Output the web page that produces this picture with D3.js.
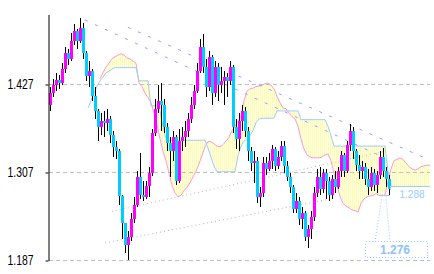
<!DOCTYPE html>
<html>
<head>
<meta charset="utf-8">
<script src="https://cdn.jsdelivr.net/npm/d3@7"></script>
<style>
  body { margin: 0; background: #fff; }
  svg { display: block; }
</style>
</head>
<body>
<div id="chart"></div>
<script>
// candles (open of each bar = previous close)
var firstOpen = 1.399;
var closes = [
  1.415,1.426,1.433,1.429,1.448,1.470,1.462,1.486,1.500,1.486,
  1.504,1.470,1.439,1.445,1.411,1.391,1.369,1.377,1.375,1.380,
  1.358,1.342,1.336,1.275,1.238,1.208,1.219,1.244,1.263,1.301,
  1.276,1.274,1.289,1.306,1.361,1.394,1.405,1.399,1.369,1.347,
  1.336,1.355,1.295,1.350,1.355,1.364,1.380,1.399,1.418,1.445,
  1.478,1.451,1.424,1.465,1.415,1.451,1.426,1.432,1.437,1.432,
  1.451,1.369,1.353,1.377,1.391,1.364,1.336,1.320,1.323,1.274,
  1.279,1.320,1.312,1.323,1.339,1.316,1.328,1.343,1.316,1.301,
  1.287,1.257,1.268,1.244,1.252,1.219,1.230,1.246,1.279,1.301,
  1.285,1.306,1.295,1.276,1.298,1.287,1.309,1.331,1.309,1.345,
  1.364,1.336,1.317,1.309,1.315,1.298,1.287,1.306,1.290,1.304,
  1.328,1.309,1.298,1.284];
var highs = [
  1.424,1.435,1.443,1.440,1.456,1.478,1.475,1.497,1.510,1.503,
  1.518,1.511,1.473,1.459,1.448,1.424,1.394,1.388,1.391,1.394,
  1.384,1.364,1.350,1.339,1.276,1.238,1.227,1.252,1.274,1.309,
  1.334,1.295,1.295,1.315,1.366,1.407,1.426,1.429,1.407,1.375,
  1.355,1.364,1.358,1.366,1.369,1.377,1.388,1.410,1.426,1.456,
  1.489,1.496,1.462,1.473,1.467,1.459,1.456,1.451,1.445,1.443,
  1.459,1.454,1.380,1.388,1.399,1.396,1.369,1.342,1.336,1.328,
  1.287,1.328,1.328,1.334,1.345,1.342,1.336,1.350,1.350,1.323,
  1.306,1.290,1.279,1.274,1.260,1.255,1.235,1.255,1.287,1.312,
  1.315,1.312,1.312,1.301,1.304,1.309,1.315,1.336,1.334,1.350,
  1.373,1.369,1.339,1.331,1.323,1.320,1.312,1.315,1.312,1.309,
  1.336,1.340,1.315,1.304];
var lows = [
  1.391,1.410,1.418,1.421,1.426,1.443,1.454,1.459,1.481,1.475,
  1.484,1.462,1.432,1.424,1.405,1.380,1.350,1.358,1.355,1.364,
  1.347,1.328,1.325,1.263,1.216,1.197,1.188,1.214,1.238,1.260,
  1.271,1.268,1.271,1.274,1.302,1.357,1.388,1.364,1.361,1.336,
  1.301,1.323,1.290,1.293,1.336,1.342,1.355,1.375,1.394,1.415,
  1.443,1.443,1.410,1.418,1.399,1.410,1.405,1.415,1.399,1.410,
  1.426,1.361,1.339,1.336,1.364,1.355,1.323,1.309,1.293,1.265,
  1.260,1.274,1.304,1.309,1.312,1.309,1.312,1.323,1.306,1.295,
  1.279,1.252,1.252,1.235,1.230,1.214,1.204,1.216,1.241,1.274,
  1.276,1.279,1.271,1.268,1.271,1.279,1.285,1.301,1.301,1.306,
  1.336,1.325,1.309,1.298,1.298,1.290,1.276,1.282,1.282,1.279,
  1.298,1.301,1.287,1.276];

// cloud, starting at bar 13 and running past the last candle
var cloudStart = 13;
var spanA = [
  null,null,null,null,
  1.435,1.443,1.451,1.456,1.462,1.465,1.467,1.469,1.467,1.463,
  1.462,1.459,1.456,1.429,1.424,1.415,1.409,1.402,1.388,1.372,
  1.353,1.336,1.323,1.306,1.289,1.279,1.274,1.276,1.282,1.287,
  1.293,1.301,1.309,1.319,1.330,1.342,1.349,1.349,1.346,1.343,
  1.342,1.345,1.350,1.355,1.364,1.370,1.377,1.384,1.405,1.418,
  1.421,1.422,1.424,1.425,1.426,1.428,1.429,1.426,1.421,1.411,
  1.402,1.395,1.394,1.388,1.383,1.380,1.370,1.353,1.339,1.331,
  1.328,1.327,1.327,1.327,1.328,1.331,1.332,1.323,1.306,1.289,
  1.274,1.265,1.261,1.259,1.256,1.255,1.253,1.265,1.271,1.274,
  1.275,1.276,1.278,1.276,1.276,1.276,1.295,1.312,1.323,1.325,
  1.327,1.325,1.320,1.315,1.312,1.310,1.312,1.315,1.316,1.317,
  1.317];
var spanB = [
  1.395,1.405,1.415,1.425,
  1.432,1.437,1.443,1.445,1.448,1.450,1.450,1.450,1.450,1.450,
  1.450,1.450,1.450,1.432,1.432,1.432,1.432,1.398,1.398,1.398,
  1.391,1.370,1.353,1.351,1.351,1.351,1.351,1.351,1.351,1.351,
  1.351,1.351,1.351,1.351,1.351,1.351,1.340,1.328,1.316,1.308,
  1.308,1.308,1.308,1.308,1.308,1.308,1.330,1.343,1.350,1.353,
  1.357,1.364,1.375,1.380,1.381,1.381,1.381,1.381,1.381,1.391,
  1.391,1.391,1.391,1.391,1.391,1.391,1.391,1.379,1.379,1.379,
  1.379,1.379,1.379,1.379,1.379,1.379,1.370,1.357,1.343,1.343,
  1.343,1.343,1.343,1.343,1.343,1.343,1.343,1.343,1.343,1.343,
  1.343,1.343,1.343,1.343,1.343,1.343,1.309,1.288,1.288,1.288,
  1.288,1.288,1.288,1.288,1.288,1.288,1.288,1.288,1.288,1.288,
  1.288];

// trend lines: [bar, price] -> [bar, price]
var upperLines = [[12, 1.515, 110.3, 1.330], [26.3, 1.505, 126.3, 1.325]];
var lowerLines = [[18.7, 1.211, 93.7, 1.271], [21, 1.254, 112, 1.336]];

var yTicks = [1.427, 1.307, 1.187];
var spanBLevel = 1.288, spanALevel = 1.276;

var width = 434, height = 274;

var svg = d3.select('#chart').append('svg')
    .attr('width', width)
    .attr('height', height);

var x = d3.scaleLinear().domain([0, 127]).range([49, 430]);
var y = d3.scaleLinear().domain([1.187, 1.52245]).range([260.5, 14.5]);

var defs = svg.append('defs');
defs.append('pattern')
    .attr('id', 'hatch')
    .attr('patternUnits', 'userSpaceOnUse')
    .attr('width', 2).attr('height', 2)
  .append('rect')
    .attr('width', 1).attr('height', 2)
    .attr('fill', '#ffff99')
    .attr('shape-rendering', 'crispEdges');

// cloud
var cloud = spanB.map(function(b, k) {
  return { i: cloudStart + k, a: spanA[k], b: b };
});

svg.append('path')
    .datum(cloud)
    .attr('fill', 'url(#hatch)')
    .attr('shape-rendering', 'crispEdges')
    .attr('d', d3.area()
        .defined(function(d) { return d.a != null; })
        .x(function(d) { return x(d.i); })
        .y0(function(d) { return y(d.a); })
        .y1(function(d) { return y(d.b); }));

svg.append('path')
    .datum(cloud)
    .attr('fill', 'none')
    .attr('stroke', '#ff99cc')
    .attr('d', d3.line()
        .defined(function(d) { return d.a != null; })
        .x(function(d) { return x(d.i); })
        .y(function(d) { return y(d.a); }));

svg.append('path')
    .datum(cloud)
    .attr('fill', 'none')
    .attr('stroke', '#99ccff')
    .attr('d', d3.line()
        .x(function(d) { return x(d.i); })
        .y(function(d) { return y(d.b); }));

// grid
svg.append('g').selectAll('line')
    .data(yTicks)
    .enter().append('line')
    .attr('x1', 49).attr('x2', 430)
    .attr('y1', function(d) { return y(d); })
    .attr('y2', function(d) { return y(d); })
    .attr('stroke', '#c0c0c0')
    .attr('stroke-dasharray', '4,3')
    .attr('shape-rendering', 'crispEdges');

// trend lines
svg.append('g').selectAll('line')
    .data(upperLines)
    .enter().append('line')
    .attr('x1', function(d) { return x(d[0]); })
    .attr('y1', function(d) { return y(d[1]); })
    .attr('x2', function(d) { return x(d[2]); })
    .attr('y2', function(d) { return y(d[3]); })
    .attr('stroke', '#9999ff')
    .attr('stroke-dasharray', '3,8');

svg.append('g').selectAll('line')
    .data(lowerLines)
    .enter().append('line')
    .attr('x1', function(d) { return x(d[0]); })
    .attr('y1', function(d) { return y(d[1]); })
    .attr('x2', function(d) { return x(d[2]); })
    .attr('y2', function(d) { return y(d[3]); })
    .attr('stroke', '#b4b4b4')
    .attr('stroke-dasharray', '1,3');

// candles
var bars = closes.map(function(c, i) {
  return { i: i, o: i === 0 ? firstOpen : closes[i - 1], c: c, h: highs[i], l: lows[i] };
});

var cg = svg.append('g').attr('shape-rendering', 'crispEdges');
cg.selectAll('line')
    .data(bars)
    .enter().append('line')
    .attr('x1', function(d) { return Math.round(x(d.i)) + 1.5; })
    .attr('x2', function(d) { return Math.round(x(d.i)) + 1.5; })
    .attr('y1', function(d) { return y(d.h); })
    .attr('y2', function(d) { return y(d.l); })
    .attr('stroke', '#000');

cg.selectAll('rect')
    .data(bars)
    .enter().append('rect')
    .attr('x', function(d) { return Math.round(x(d.i)); })
    .attr('width', 3)
    .attr('y', function(d) { return y(Math.max(d.o, d.c)); })
    .attr('height', function(d) { return Math.max(1, Math.abs(y(d.o) - y(d.c))); })
    .attr('fill', function(d) { return d.c >= d.o ? '#ff00ff' : '#00ccff'; });

// axis
var axis = svg.append('g')
    .attr('transform', 'translate(48.5,0)')
    .call(d3.axisLeft(y)
        .tickValues(yTicks)
        .tickSize(3)
        .tickSizeOuter(0)
        .tickPadding(12)
        .tickFormat(d3.format('.3f')));
axis.select('.domain').attr('stroke', '#000');
axis.selectAll('.tick line').attr('stroke', '#000');
axis.selectAll('text')
    .attr('fill', '#000')
    .style('font-family', '"Liberation Sans", Arial, sans-serif')
    .style('font-size', '14px')
    .attr('textLength', 26)
    .attr('lengthAdjust', 'spacingAndGlyphs');

// level labels
var lab = svg.append('g').attr('shape-rendering', 'crispEdges');
var lastX = x(closes.length - 1) + 2;
var yb = Math.round(y(spanBLevel)) + 0.5;
var ya = Math.round(y(spanALevel)) + 0.5;

lab.append('path')
    .attr('d', 'M' + lastX + ',' + (yb + 3) + 'V' + yb + 'H' + x(126))
    .attr('fill', 'none')
    .attr('stroke', '#99ccff');
lab.append('text')
    .attr('x', x(121))
    .attr('y', yb + 11)
    .attr('text-anchor', 'middle')
    .attr('fill', '#99ccff')
    .style('font-family', 'Arial, "Liberation Sans", sans-serif')
    .style('font-size', '11px')
    .attr('textLength', 25)
    .attr('lengthAdjust', 'spacingAndGlyphs')
    .text(d3.format('.3f')(spanBLevel));

lab.append('line')
    .attr('x1', lastX - 11).attr('x2', lastX)
    .attr('y1', ya).attr('y2', ya)
    .attr('stroke', '#99ccff');

var boxTop = 241.5;
lab.append('path')
    .attr('d', 'M' + (lastX - 8) + ',' + (ya + 1) + 'L' + (lastX - 15) + ',' + boxTop +
               'M' + (lastX - 4) + ',' + (ya + 1) + 'L' + (lastX) + ',' + boxTop)
    .attr('fill', 'none')
    .attr('stroke', '#99ccff')
    .attr('stroke-dasharray', '1,2')
    .attr('shape-rendering', 'auto');
lab.append('rect')
    .attr('x', 365.5).attr('y', boxTop)
    .attr('width', 62).attr('height', 16)
    .attr('fill', '#fff')
    .attr('stroke', '#99ccff')
    .attr('stroke-dasharray', '1,2');
lab.append('text')
    .attr('x', 395)
    .attr('y', boxTop + 12.5)
    .attr('text-anchor', 'middle')
    .attr('fill', '#8cc4ff')
    .style('font-family', 'Arial, "Liberation Sans", sans-serif')
    .style('font-size', '12px')
    .style('font-weight', 'bold')
    .attr('textLength', 30)
    .attr('lengthAdjust', 'spacingAndGlyphs')
    .text(d3.format('.3f')(spanALevel));
</script>
</body>
</html>
